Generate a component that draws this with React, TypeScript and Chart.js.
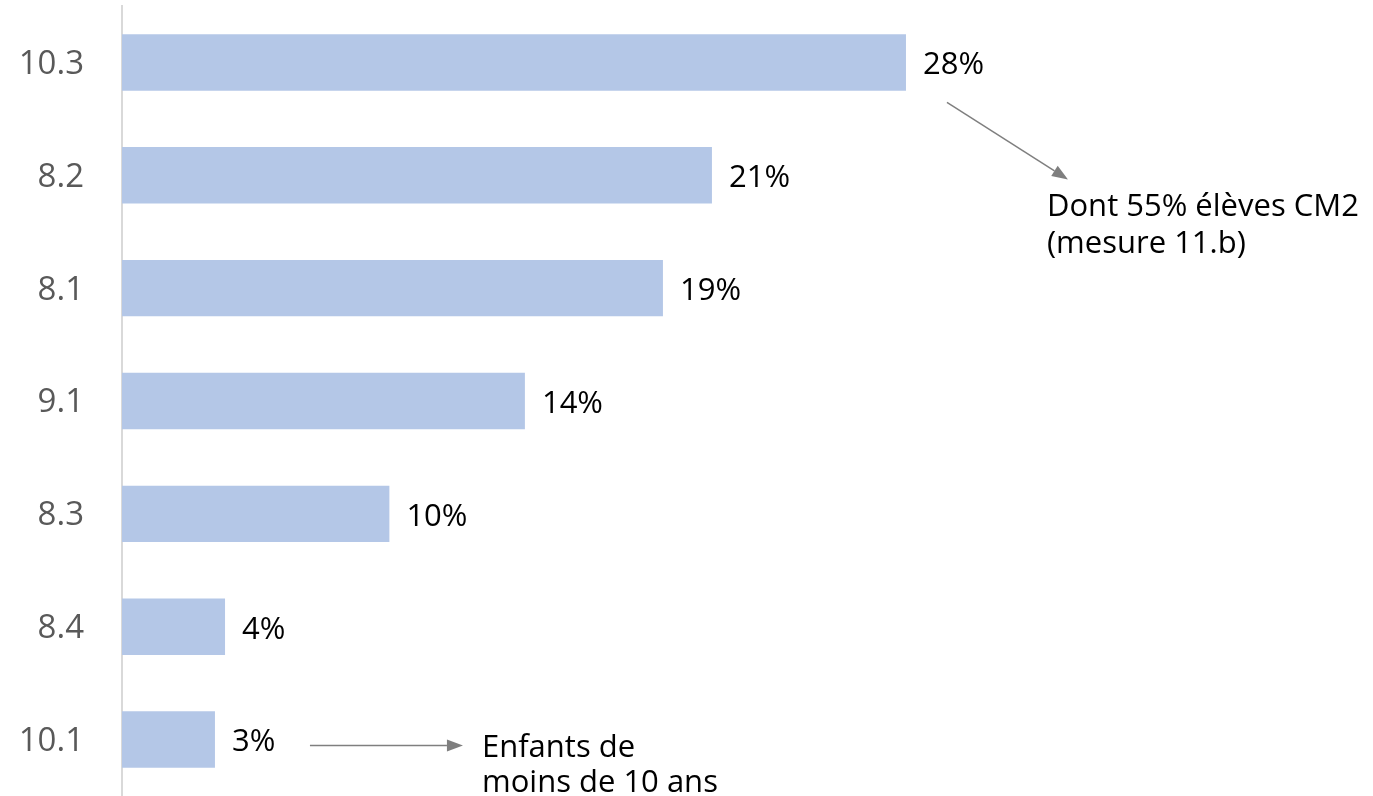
import React, { useEffect, useRef } from "react";
import { Chart, registerables } from "chart.js";

Chart.register(...registerables);

const categories = ["10.3", "8.2", "8.1", "9.1", "8.3", "8.4", "10.1"];
const values = [28.0, 21.07, 19.32, 14.39, 9.55, 3.68, 3.32];
const valueLabels = [28, 21, 19, 14, 10, 4, 3];
const noteTop = ["Dont 55% élèves CM2", "(mesure 11.b)"];
const noteBottom = ["Enfants de", "moins de 10 ans"];

const FONT = "'Open Sans', 'Noto Sans', sans-serif";
const FS = 31;

function arrow(ctx: CanvasRenderingContext2D, x1: number, y1: number, x2: number, y2: number) {
  const ang = Math.atan2(y2 - y1, x2 - x1);
  const hl = 16;
  const hw = 6;
  const bx = x2 - hl * Math.cos(ang);
  const by = y2 - hl * Math.sin(ang);
  ctx.save();
  ctx.strokeStyle = "#7f7f7f";
  ctx.fillStyle = "#7f7f7f";
  ctx.lineWidth = 1.5;
  ctx.beginPath();
  ctx.moveTo(x1, y1);
  ctx.lineTo(bx, by);
  ctx.stroke();
  ctx.beginPath();
  ctx.moveTo(x2, y2);
  ctx.lineTo(bx + hw * Math.sin(ang), by - hw * Math.cos(ang));
  ctx.lineTo(bx - hw * Math.sin(ang), by + hw * Math.cos(ang));
  ctx.closePath();
  ctx.fill();
  ctx.restore();
}

const labelsPlugin = {
  id: "customLabels",
  afterDatasetsDraw(chart: any) {
    const ctx: CanvasRenderingContext2D = chart.ctx;
    const xs = chart.scales.x;
    const ys = chart.scales.y;
    ctx.save();
    ctx.font = `${FS}px ${FONT}`;
    ctx.fillStyle = "#000000";
    ctx.textBaseline = "middle";
    ctx.textAlign = "left";
    values.forEach((v, i) => {
      const px = xs.getPixelForValue(v);
      const py = ys.getPixelForValue(i);
      ctx.fillText(`${valueLabels[i]}%`, px + 17, py + 3);
    });

    // top annotation
    const e0 = xs.getPixelForValue(values[0]);
    const c0 = ys.getPixelForValue(0);
    arrow(ctx, e0 + 41, c0 + 40, e0 + 162, c0 + 117);
    ctx.textBaseline = "alphabetic";
    ctx.fillText(noteTop[0], e0 + 141, c0 + 154);
    ctx.fillText(noteTop[1], e0 + 141, c0 + 191);

    // bottom annotation
    const last = values.length - 1;
    const e6 = xs.getPixelForValue(values[last]);
    const c6 = ys.getPixelForValue(last);
    arrow(ctx, e6 + 95, c6 + 6, e6 + 248, c6 + 6);
    ctx.fillText(noteBottom[0], e6 + 267, c6 + 17);
    ctx.fillText(noteBottom[1], e6 + 267, c6 + 52);
    ctx.restore();
  },
};

export default function App() {
  const ref = useRef<HTMLCanvasElement>(null);
  useEffect(() => {
    if (!ref.current) return;
    const chart = new Chart(ref.current, {
      type: "bar",
      data: {
        labels: categories,
        datasets: [
          {
            data: values,
            backgroundColor: "#b4c7e7",
            borderWidth: 0,
            categoryPercentage: 1,
            barPercentage: 0.5,
          },
        ],
      },
      options: {
        indexAxis: "y",
        animation: false,
        responsive: true,
        maintainAspectRatio: false,
        layout: { padding: { top: 6, right: 0, bottom: 0, left: 0 } },
        plugins: { legend: { display: false }, tooltip: { enabled: false } },
        scales: {
          x: { display: false, min: 0, max: 44.68 },
          y: {
            afterFit: (s: any) => {
              s.width = 122;
              s.paddingTop = 0;
              s.paddingBottom = 0;
            },
            grid: { display: false },
            border: { display: true, color: "#d9d9d9", width: 2 },
            ticks: {
              color: "#595959",
              padding: 30,
              labelOffset: 2,
              font: { family: FONT, size: 33 },
            },
          },
        },
      },
      plugins: [labelsPlugin],
    });
    return () => chart.destroy();
  }, []);
  return (
    <div style={{ position: "absolute", left: 0, top: 0, width: 1373, height: 796, background: "#fff" }}>
      <canvas ref={ref} />
    </div>
  );
}
